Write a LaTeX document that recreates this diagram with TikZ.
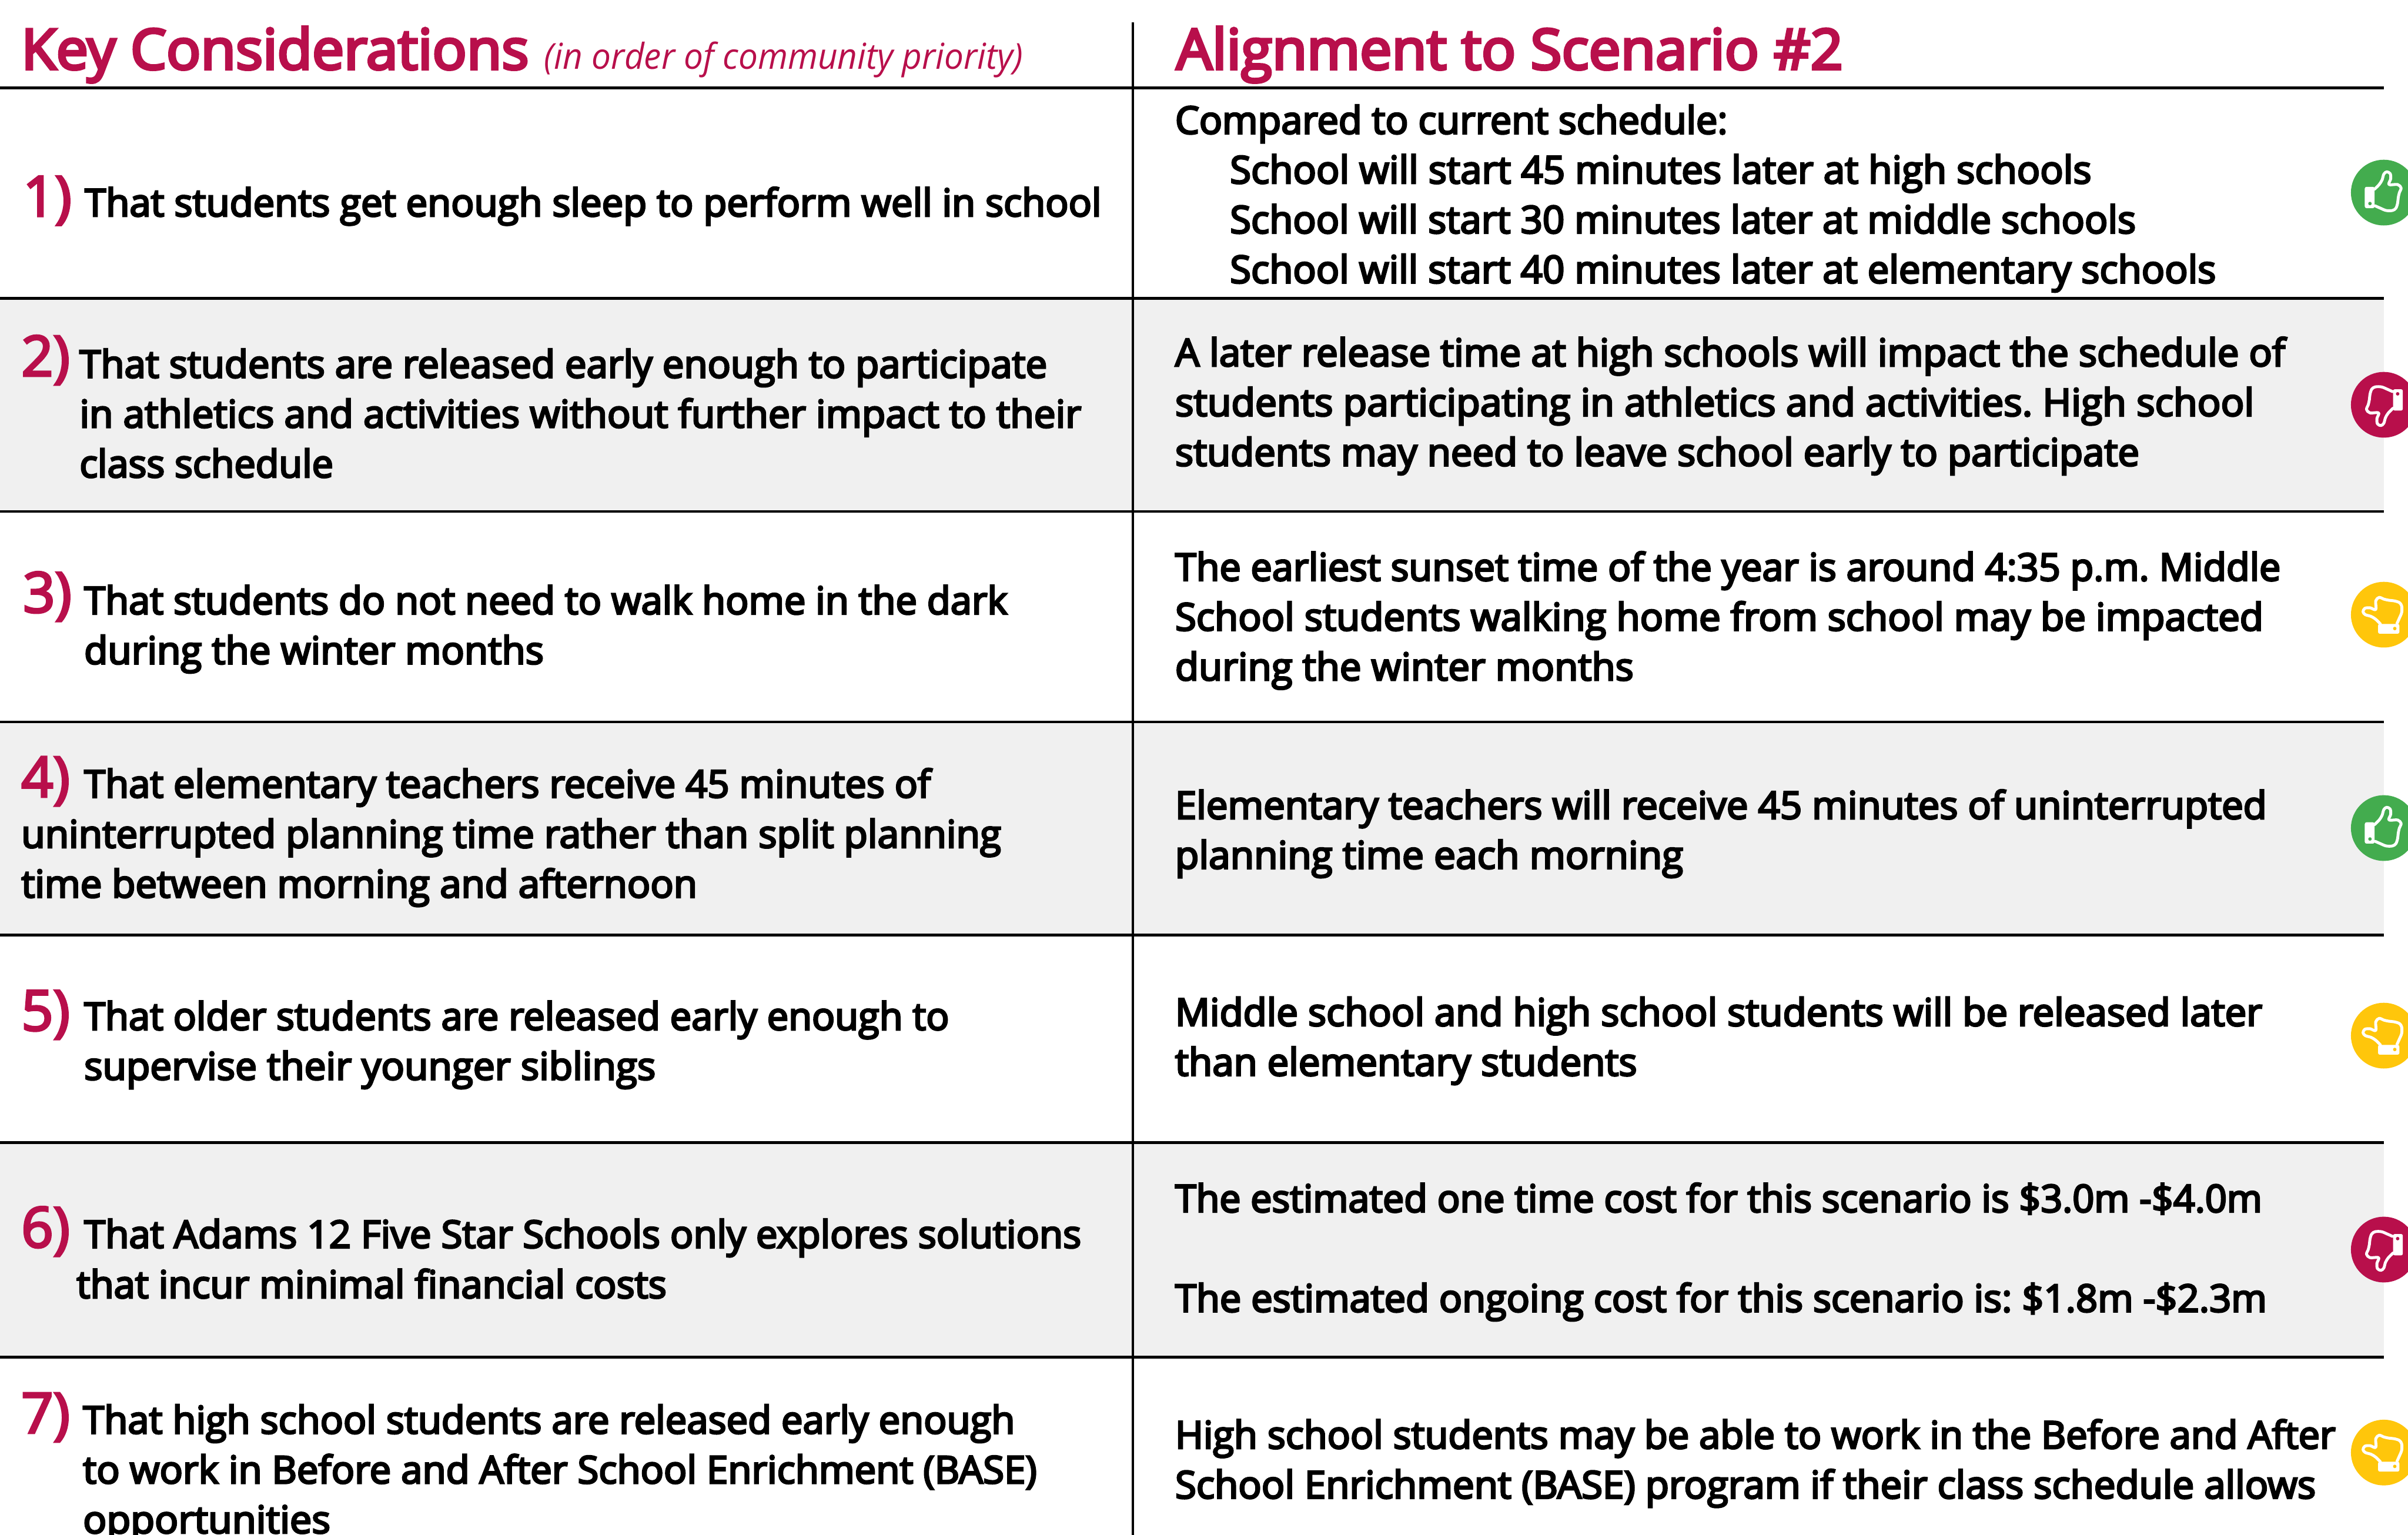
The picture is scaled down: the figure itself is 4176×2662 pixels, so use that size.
\documentclass[tikz,border=0pt]{standalone}
\usepackage{fontspec}
\setmainfont{Open Sans}
\newfontfamily\semib{Open Sans}[FakeBold=4.6]
\newfontfamily\numf{Open Sans}[FakeBold=4]
\newfontfamily\headf{Open Sans}[FakeBold=5]
\newfontfamily\itf{Open Sans Italic}
\definecolor{crim}{HTML}{B80F4B}
\definecolor{grn}{HTML}{43AC4E}
\definecolor{yel}{HTML}{FFC60B}
\definecolor{band}{HTML}{F0F0F0}
\newcommand\fl[2]{\hbox{\resizebox{#1pt}{\height}{#2}}}
\newcommand\blk[1]{\vtop{\baselineskip=86.4pt\lineskiplimit=-1000pt\frenchspacing #1}}
\tikzset{
  x=1pt,y=-1pt,
  body/.style={inner sep=0pt,outer sep=0pt,anchor=base west,font=\fontsize{66}{86}\semib,text=black},
  head/.style={inner sep=0pt,outer sep=0pt,anchor=base west,font=\fontsize{97}{110}\headf,text=crim},
  sub/.style={inner sep=0pt,outer sep=0pt,anchor=base west,font=\fontsize{62}{70}\itf,text=crim},
  num/.style={inner sep=0pt,outer sep=0pt,anchor=base west,font=\fontsize{97}{110}\numf,text=crim},
  rule/.style={line width=5pt,black},
  bandfill/.style={fill=band,draw=none},
  badge/.style={circle,minimum size=114pt,inner sep=0pt,outer sep=0pt,fill=#1},
  thumb/.pic={
    \fill[white,rounded corners=3pt] (-33,-10) rectangle (-16,27);
    \fill[#1] (-24,19) circle (3);
    \draw[white,line width=5pt,line join=round,line cap=round]
      plot[smooth,tension=0.55] coordinates {(-16,-6) (-8,-14) (-3,-22) (0,-32) (5,-36) (11,-33) (12,-24) (9,-14) (24,-14) (30,-8) (27,0) (25,9) (24,18) (21,27) (15,31) (4,31) (-6,27) (-15,23)};
  }
}
\begin{document}
\begin{tikzpicture}
\useasboundingbox (0,0) rectangle (4176,2662);
\clip (0,0) rectangle (4176,2662);
% bands
\fill[bandfill] (0,517) rectangle (4134,887);
\fill[bandfill] (0,1252) rectangle (4134,1622);
\fill[bandfill] (0,1981) rectangle (4134,2354);
% rules
\foreach \yy in {152,517,887,1252,1622,1981,2354}
  \draw[rule] (0,\yy) -- (4134,\yy);
\draw[black,line width=4pt] (1965,39) -- (1965,2662);
% headers
\node[head] (h1) at (37,120) {\fl{880}{Key Considerations}};
\node[sub] (h1s) at (944,120) {\fl{830}{(in order of community priority)}};
\node[head] (h2) at (2040,120) {\fl{1156}{Alignment to Scenario \#2}};
% numbers
\node[num] (n1) at (40,375) {1)};
\node[num] (n2) at (37,652) {2)};
\node[num] (n3) at (40,1062) {3)};
\node[num] (n4) at (37,1382) {4)};
\node[num] (n5) at (37,1787) {5)};
\node[num] (n6) at (37,2163) {6)};
\node[num] (n7) at (37,2485) {7)};
% left column
\node[body] (l1) at (147,375) {\blk{\fl{1763}{That students get enough sleep to perform well in school}}};
\node[body] (l2) at (138,655) {\blk{\fl{1678}{That students are released early enough to participate}\fl{1737}{in athletics and activities without further impact to their}\fl{440}{class schedule}}};
\node[body] (l3) at (146,1065) {\blk{\fl{1601}{That students do not need to walk home in the dark}\fl{797}{during the winter months}}};
\node[body] (l4a) at (146,1383) {\blk{\fl{1468}{That elementary teachers receive 45 minutes of}}};
\node[body] (l4b) at (37,1470) {\blk{\fl{1699}{uninterrupted planning time rather than split planning}\fl{1172}{time between morning and afternoon}}};
\node[body] (l5) at (146,1786) {\blk{\fl{1500}{That older students are released early enough to}\fl{991}{supervise their younger siblings}}};
\node[body] (l6a) at (146,2164) {\blk{\fl{1729}{That Adams 12 Five Star Schools only explores solutions}}};
\node[body] (l6b) at (133,2251) {\blk{\fl{1023}{that incur minimal financial costs}}};
\node[body] (l7) at (144,2486) {\blk{\fl{1616}{That high school students are released early enough}\fl{1654}{to work in Before and After School Enrichment (BASE)}\fl{429}{opportunities}}};
% right column
\node[body] (r1a) at (2038,232) {\blk{\fl{958}{Compared to current schedule:}}};
\node[body] (r1b) at (2133,318) {\blk{\fl{1494}{School will start 45 minutes later at high schools}\fl{1571}{School will start 30 minutes later at middle schools}\fl{1710}{School will start 40 minutes later at elementary schools}}};
\node[body] (r2) at (2038,635) {\blk{\fl{1925}{A later release time at high schools will impact the schedule of}\fl{1871}{students participating in athletics and activities. High school}\fl{1672}{students may need to leave school early to participate}}};
\node[body] (r3) at (2038,1007) {\blk{\fl{1917}{The earliest sunset time of the year is around 4:35 p.m. Middle}\fl{1887}{School students walking home from school may be impacted}\fl{795}{during the winter months}}};
\node[body] (r4) at (2038,1420) {\blk{\fl{1893}{Elementary teachers will receive 45 minutes of uninterrupted}\fl{881}{planning time each morning}}};
\node[body] (r5) at (2038,1779) {\blk{\fl{1885}{Middle school and high school students will be released later}\fl{801}{than elementary students}}};
\node[body] (r6a) at (2038,2102) {\blk{\fl{1885}{The estimated one time cost for this scenario is \$3.0m -\$4.0m}}};
\node[body] (r6b) at (2038,2275) {\blk{\fl{1893}{The estimated ongoing cost for this scenario is: \$1.8m -\$2.3m}}};
\node[body] (r7) at (2038,2512) {\blk{\fl{2012}{High school students may be able to work in the Before and After}\fl{1978}{School Enrichment (BASE) program if their class schedule allows}}};
% badges
\node[badge=grn] (b1) at (4134,334) {};
\pic at (b1.center) {thumb=grn};
\node[badge=crim] (b2) at (4134,702) {};
\pic[rotate=180] at (b2.center) {thumb=crim};
\node[badge=yel] (b3) at (4134,1066) {};
\pic[rotate=90] at (b3.center) {thumb=yel};
\node[badge=grn] (b4) at (4134,1436) {};
\pic at (b4.center) {thumb=grn};
\node[badge=yel] (b5) at (4134,1796) {};
\pic[rotate=90] at (b5.center) {thumb=yel};
\node[badge=crim] (b6) at (4134,2167) {};
\pic[rotate=180] at (b6.center) {thumb=crim};
\node[badge=yel] (b7) at (4134,2519) {};
\pic[rotate=90] at (b7.center) {thumb=yel};
\end{tikzpicture}
\end{document}
